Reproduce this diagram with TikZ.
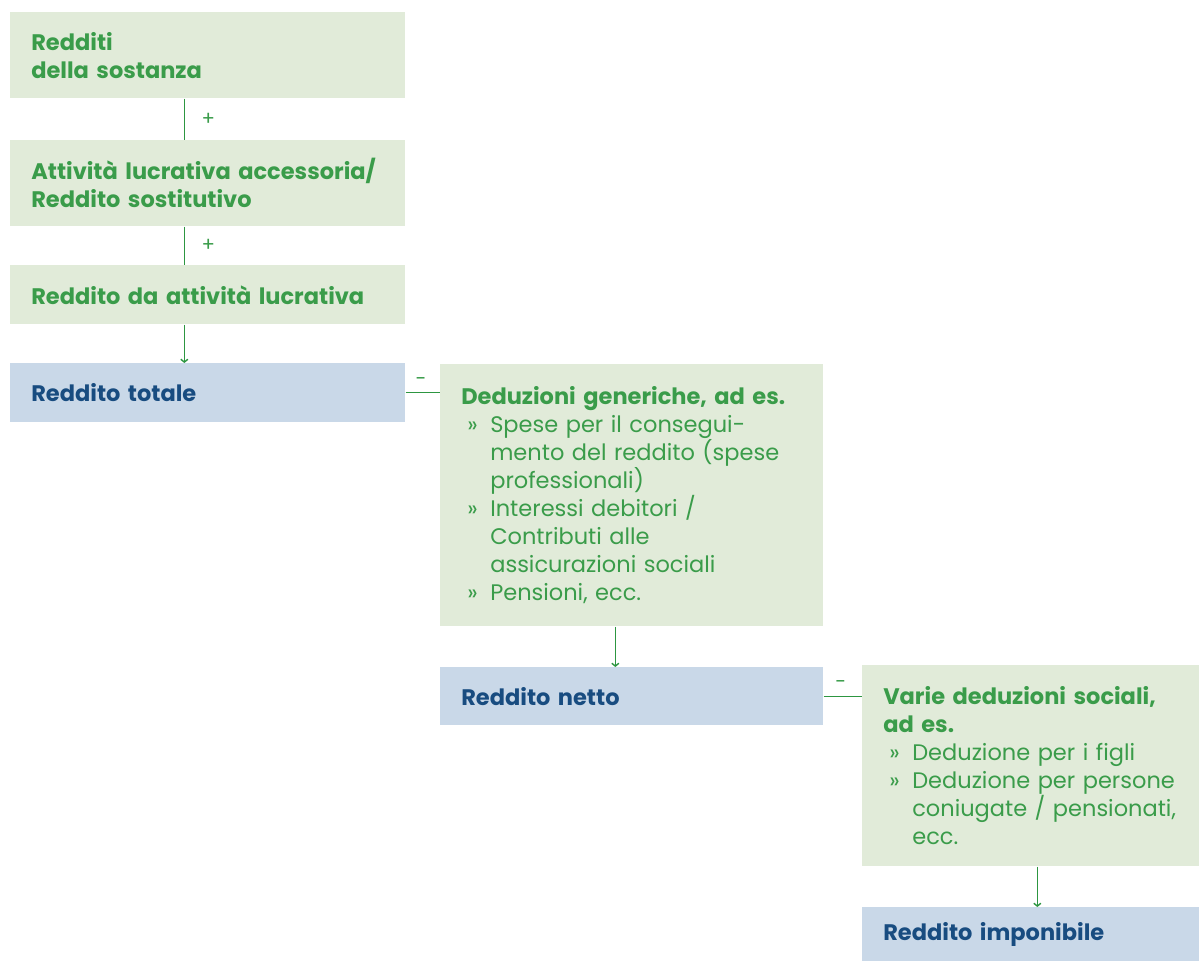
\documentclass[tikz,border=0pt]{standalone}
\usepackage{fontspec}
\setmainfont{Poppins}
\usetikzlibrary{arrows.meta}

\definecolor{greenfill}{RGB}{225,235,217}
\definecolor{bluefill}{RGB}{201,216,232}
\definecolor{greentext}{RGB}{58,156,74}
\definecolor{bluetext}{RGB}{24,76,128}
\definecolor{greenline}{RGB}{45,150,65}

\newcommand\bul{\hspace*{0.15cm}\makebox[0.575cm][l]{»}}
\newcommand\cont{\hspace*{0.725cm}}

\begin{document}
\begin{tikzpicture}
	[%
	x=0.025cm, y=-0.025cm,%
	income/.style ={anchor=north west,	fill=greenfill,	text=greentext,	font=\fontsize{16pt}{19.9pt}\selectfont\bfseries,	align=left,	inner xsep=0.525cm,	minimum width=9.875cm},%
	total/.style  ={anchor=north west,	fill=bluefill,	text=bluetext,	font=\fontsize{16pt}{19.9pt}\selectfont\bfseries,	align=left,	inner xsep=0.525cm},%
	deduct/.style ={anchor=north west,	fill=greenfill,	text=greentext,	font=\fontsize{16pt}{19.9pt}\selectfont,	align=left,	inner xsep=0.525cm},%
	link/.style   ={draw=greenline,	line width=1pt},%
	tip/.style    ={-{Straight Barb[length=2pt,width=5pt]}},%
	sign/.style   ={text=greentext,	font=\fontsize{14pt}{16pt}\selectfont},%
	]

	\useasboundingbox (0,0) rectangle (1199,961);

	% income boxes
	\node (sostanza)   at (10,12)  [income, minimum height=2.15cm,  text width=8.825cm] {Redditi\\della sostanza};
	\node (accessoria) at (10,140) [income, minimum height=2.15cm,  text width=8.825cm] {Attività lucrativa accessoria/\\Reddito sostitutivo};
	\node (lucrativa)  at (10,265) [income, minimum height=1.475cm, text width=8.825cm] {Reddito da attività lucrativa};

	% totals
	\node (totale)     at (10,363)  [total, minimum width=9.875cm, minimum height=1.475cm, text width=8.825cm] {Reddito totale};
	\node (netto)      at (440,667) [total, minimum width=9.575cm, minimum height=1.45cm,  text width=8.525cm] {Reddito netto};
	\node (imponibile) at (862,907) [total, minimum width=8.425cm, minimum height=1.35cm,  text width=7.375cm] {Reddito imponibile};

	% deductions
	\node (generiche)  at (440,364) [deduct, minimum width=9.575cm, minimum height=6.55cm, text width=8.525cm]
		{\textbf{Deduzioni generiche, ad es.}\\
		\bul Spese per il consegui-\\
		\cont mento del reddito (spese\\
		\cont professionali)\\
		\bul Interessi debitori /\\
		\cont Contributi alle\\
		\cont assicurazioni sociali\\
		\bul Pensioni, ecc.};
	\node (sociali)    at (862,665) [deduct, minimum width=8.425cm, minimum height=5.025cm, text width=7.375cm]
		{\textbf{Varie deduzioni sociali,}\\
		\textbf{ad es.}\\
		\bul Deduzione per i figli\\
		\bul Deduzione per persone\\
		\cont coniugate / pensionati,\\
		\cont ecc.};

	% interconnections
	\draw [link] ([xshift=-0.5875cm]sostanza.south) -- ([xshift=-0.5875cm]accessoria.north) node [midway, right=0.3cm, sign] {+};
	\draw [link] ([xshift=-0.5875cm]accessoria.south) -- ([xshift=-0.5875cm]lucrativa.north) node [midway, right=0.3cm, sign] {+};
	\draw [link, tip] ([xshift=-0.5875cm]lucrativa.south) -- ([xshift=-0.5875cm]totale.north);

	\draw [link] (totale.east) -- (totale.east -| generiche.west) node [pos=0.45, above=0.05cm, sign] {-};
	\draw [link, tip] ([xshift=-0.4125cm]generiche.south) -- ([xshift=-0.4125cm]netto.north);

	\draw [link] (netto.east) -- (netto.east -| sociali.west) node [pos=0.45, above=0.05cm, sign] {-};
	\draw [link, tip] ([xshift=0.1625cm]sociali.south) -- ([xshift=0.1625cm]imponibile.north);

\end{tikzpicture}
\end{document}
